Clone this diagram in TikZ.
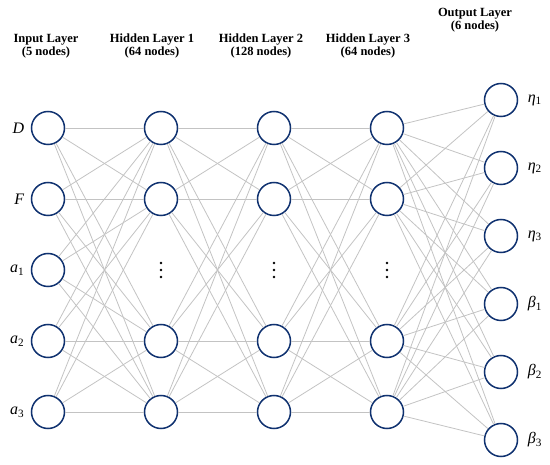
\documentclass[tikz,border=0pt]{standalone}
\usepackage{fontspec}
\setmainfont{Liberation Serif}
\definecolor{navy}{RGB}{16,50,112}
\definecolor{wire}{RGB}{195,195,195}
\newcommand{\lbl}[2]{\textit{#1}\textsubscript{#2}}
\begin{document}
\begin{tikzpicture}[x=1pt,y=-1pt,
  nv/.style={draw=navy,fill=white,circle,line width=1.5pt,minimum size=33pt,inner sep=0pt},
  hd/.style={font=\bfseries\fontsize{12.5}{13.5}\selectfont,align=center},
  lb/.style={font=\fontsize{16}{16}\selectfont},
  wr/.style={draw=wire,line width=0.8pt}]
    \useasboundingbox (0,0) rectangle (550,465);

    \node[hd] (hin) at (46,46) {Input Layer\\(5 nodes)};
    \node[hd] (hha) at (152,46) {Hidden Layer 1\\(64 nodes)};
    \node[hd] (hhb) at (261,46) {Hidden Layer 2\\(128 nodes)};
    \node[hd] (hhc) at (368,46) {Hidden Layer 3\\(64 nodes)};
    \node[hd] (hout) at (475,20) {Output Layer\\(6 nodes)};

    \node[nv,label={[lb,label distance=3pt]left:\textit{D}}] (in1) at (48,128) {};
    \node[nv,label={[lb,label distance=3pt]left:\textit{F}}] (in2) at (48,199) {};
    \node[nv,label={[lb,label distance=3pt]left:\lbl{a}{1}}] (in3) at (48,270) {};
    \node[nv,label={[lb,label distance=3pt]left:\lbl{a}{2}}] (in4) at (48,341) {};
    \node[nv,label={[lb,label distance=3pt]left:\lbl{a}{3}}] (in5) at (48,412) {};

    \node[nv] (ha1) at (161,128) {};
    \node[nv] (ha2) at (161,199) {};
    \coordinate (hadots) at (161,270);
    \node[nv] (ha4) at (161,341) {};
    \node[nv] (ha5) at (161,412) {};

    \node[nv] (hb1) at (274,128) {};
    \node[nv] (hb2) at (274,199) {};
    \coordinate (hbdots) at (274,270);
    \node[nv] (hb4) at (274,341) {};
    \node[nv] (hb5) at (274,412) {};

    \node[nv] (hc1) at (387,128) {};
    \node[nv] (hc2) at (387,199) {};
    \coordinate (hcdots) at (387,270);
    \node[nv] (hc4) at (387,341) {};
    \node[nv] (hc5) at (387,412) {};

    \node[nv,label={[lb,label distance=6pt]right:\lbl{η}{1}}] (out1) at (501,100) {};
    \node[nv,label={[lb,label distance=6pt]right:\lbl{η}{2}}] (out2) at (501,168) {};
    \node[nv,label={[lb,label distance=6pt]right:\lbl{η}{3}}] (out3) at (501,236) {};
    \node[nv,label={[lb,label distance=6pt]right:\lbl{β}{1}}] (out4) at (501,304) {};
    \node[nv,label={[lb,label distance=6pt]right:\lbl{β}{2}}] (out5) at (501,372) {};
    \node[nv,label={[lb,label distance=6pt]right:\lbl{β}{3}}] (out6) at (501,440) {};

    \foreach \d in {hadots,hbdots,hcdots}
        \foreach \k in {-7,0,7}
            \fill ([yshift=\k pt]\d) circle (1.4pt);

    \foreach \i in {1,...,5}
        \foreach \j in {1,2,4,5}
            \draw[wr] (in\i) -- (ha\j);
    \foreach \i in {1,2,4,5}
        \foreach \j in {1,2,4,5} {
            \draw[wr] (ha\i) -- (hb\j);
            \draw[wr] (hb\i) -- (hc\j);
        }
    \foreach \i in {1,2,4,5}
        \foreach \j in {1,...,6}
            \draw[wr] (hc\i) -- (out\j);
\end{tikzpicture}
\end{document}
